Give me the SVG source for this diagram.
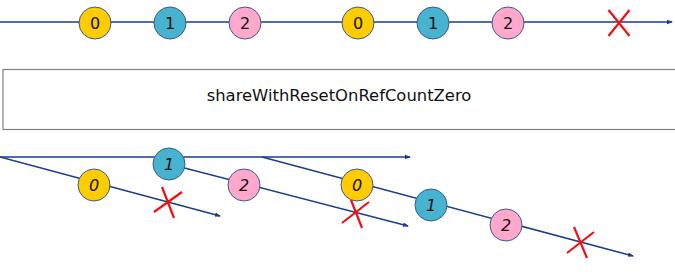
<svg xmlns="http://www.w3.org/2000/svg" width="675" height="280" viewBox="0 0 675 280">
  <defs>
    <marker id="arrow" markerWidth="6" markerHeight="6" refX="5" refY="3" orient="auto" markerUnits="userSpaceOnUse">
      <path d="M0,0.8 L6,3 L0,5.2 Z" fill="#1a3d8c"/>
    </marker>
    <style>
      .line { stroke: #1a3d8c; stroke-width: 1.5; fill: none; }
      .ball { stroke: #3b5a94; stroke-width: 1; }
      .y { fill: #ffcc00; }
      .b { fill: #47b3cf; }
      .p { fill: #ffa8cc; }
      .lbl { font-family: "DejaVu Sans", sans-serif; font-size: 16px; fill: #111; text-anchor: middle; dominant-baseline: central; }
      .it { font-style: italic; }
      .x { stroke: #ee1111; stroke-width: 2.2; fill: none; }
      .op { fill: #fff; stroke: #808080; stroke-width: 1.2; }
      .optext { font-family: "DejaVu Sans", sans-serif; font-size: 16.4px; fill: #111; text-anchor: middle; dominant-baseline: central; }
    </style>
  </defs>

  <!-- timelines -->
  <g id="connectors">
    <line class="line" x1="0" y1="22" x2="672" y2="22" marker-end="url(#arrow)"/>
    <line class="line" x1="0" y1="157" x2="410" y2="157" marker-end="url(#arrow)"/>
    <line class="line" x1="0" y1="157" x2="220" y2="216" marker-end="url(#arrow)"/>
    <line class="line" x1="169" y1="164" x2="408" y2="226" marker-end="url(#arrow)"/>
    <line class="line" x1="262" y1="157" x2="633" y2="256" marker-end="url(#arrow)"/>
  </g>

  <!-- source stream -->
  <g id="top-0a"><circle class="ball y" cx="95" cy="23" r="16"/><text class="lbl" x="95" y="23">0</text></g>
  <g id="top-1a"><circle class="ball b" cx="170" cy="23" r="16"/><text class="lbl" x="170" y="23">1</text></g>
  <g id="top-2a"><circle class="ball p" cx="245" cy="23" r="16"/><text class="lbl" x="245" y="23">2</text></g>
  <g id="top-0b"><circle class="ball y" cx="358" cy="23" r="16"/><text class="lbl" x="358" y="23">0</text></g>
  <g id="top-1b"><circle class="ball b" cx="433" cy="23" r="16"/><text class="lbl" x="433" y="23">1</text></g>
  <g id="top-2b"><circle class="ball p" cx="508" cy="23" r="16"/><text class="lbl" x="508" y="23">2</text></g>
  <g id="top-end"><path class="x" d="M608.5,10 L629.5,36 M629.5,10 L608.5,36"/></g>

  <!-- operator -->
  <g id="operator">
    <rect class="op" x="3" y="69.5" width="673" height="60"/>
    <text class="optext" x="339" y="95">shareWithResetOnRefCountZero</text>
  </g>

  <!-- shared output streams -->
  <g id="out-0a"><circle class="ball y" cx="94" cy="185" r="16"/><text class="lbl it" x="94" y="185">0</text></g>
  <g id="out-1a"><circle class="ball b" cx="169" cy="164" r="16"/><text class="lbl it" x="169" y="164">1</text></g>
  <g id="out-2a"><circle class="ball p" cx="244" cy="185" r="16"/><text class="lbl it" x="244" y="185">2</text></g>
  <g id="out-0b"><circle class="ball y" cx="357" cy="185" r="16"/><text class="lbl it" x="357" y="185">0</text></g>
  <g id="out-1b"><circle class="ball b" cx="431" cy="205" r="16"/><text class="lbl it" x="431" y="205">1</text></g>
  <g id="out-2b"><circle class="ball p" cx="506" cy="225" r="16"/><text class="lbl it" x="506" y="225">2</text></g>

  <g id="out-end-a"><path class="x" d="M154,212 L182,192 M162,187 L174,218"/></g>
  <g id="out-end-b"><path class="x" d="M342,223 L369,202 M351,200 L362,228"/></g>
  <g id="out-end-c"><path class="x" d="M567,253 L594,232 M574,227 L587,258"/></g>
</svg>
